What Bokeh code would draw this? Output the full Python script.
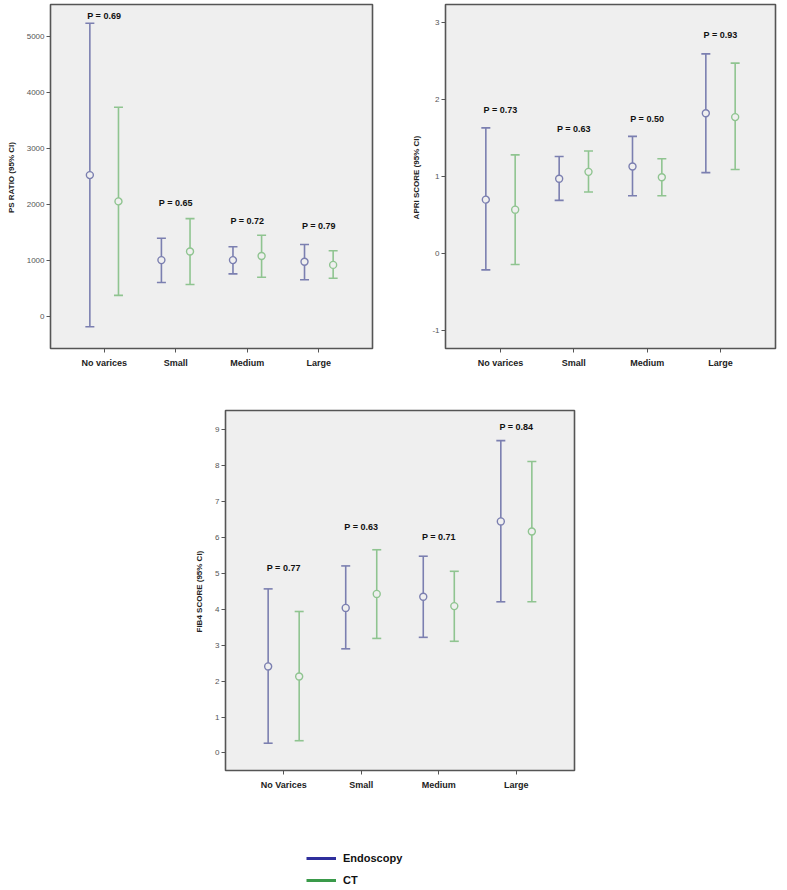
from bokeh.plotting import figure
from bokeh.models import (ColumnDataSource, FactorRange, Range1d, FixedTicker,
                          Legend, LegendItem, Spacer)
from bokeh.transform import dodge
from bokeh.layouts import row, column
from bokeh.embed import file_html
from bokeh.resources import INLINE
from bokeh.core.properties import value

# ---------------- data ----------------
cats_top = ["No varices", "Small", "Medium", "Large"]
cats_bot = ["No Varices", "Small", "Medium", "Large"]

ps_endo_mean = [2530, 1010, 1010, 980]
ps_endo_low = [-180, 610, 765, 660]
ps_endo_high = [5245, 1400, 1250, 1290]
ps_ct_mean = [2060, 1165, 1083, 925]
ps_ct_low = [380, 575, 705, 687]
ps_ct_high = [3742, 1752, 1456, 1178]
ps_p_text = ["P = 0.69", "P = 0.65", "P = 0.72", "P = 0.79"]
ps_p_y = [5380, 2040, 1705, 1615]
ps_ticks = [0, 1000, 2000, 3000, 4000, 5000]

apri_endo_mean = [0.70, 0.97, 1.13, 1.82]
apri_endo_low = [-0.21, 0.69, 0.75, 1.05]
apri_endo_high = [1.63, 1.26, 1.52, 2.59]
apri_ct_mean = [0.57, 1.06, 0.99, 1.77]
apri_ct_low = [-0.14, 0.80, 0.75, 1.09]
apri_ct_high = [1.28, 1.33, 1.23, 2.47]
apri_p_text = ["P = 0.73", "P = 0.63", "P = 0.50", "P = 0.93"]
apri_p_y = [1.86, 1.61, 1.74, 2.84]
apri_ticks = [-1, 0, 1, 2, 3]

fib_endo_mean = [2.41, 4.04, 4.35, 6.45]
fib_endo_low = [0.27, 2.90, 3.22, 4.21]
fib_endo_high = [4.57, 5.21, 5.48, 8.70]
fib_ct_mean = [2.13, 4.43, 4.09, 6.17]
fib_ct_low = [0.34, 3.19, 3.11, 4.21]
fib_ct_high = [3.94, 5.66, 5.06, 8.12]
fib_p_text = ["P = 0.77", "P = 0.63", "P = 0.71", "P = 0.84"]
fib_p_y = [5.14, 6.29, 6.01, 9.07]
fib_ticks = list(range(0, 10))

series_names = ["Endoscopy", "CT"]

# ---------------- style ----------------
BG = "#efefef"
ENDO = "#7b7fb0"
CT = "#8fc490"
ENDO_LEG = "#2f2f9c"
CT_LEG = "#3a9a4a"
FONT = "Liberation Sans"
DODGE = 0.2


def make_panel(cats, yr, ticks, ylabel, em, el, eh, cm, cl, ch, ptxt, py,
               width, height, bl, br, bt, bb):
    p = figure(width=width, height=height,
               x_range=FactorRange(*cats, range_padding=0.25,
                                   range_padding_units="absolute"),
               y_range=Range1d(*yr),
               output_backend="svg", toolbar_location=None,
               min_border_left=bl, min_border_right=br,
               min_border_top=bt, min_border_bottom=bb)
    p.background_fill_color = BG
    p.border_fill_color = "white"
    p.outline_line_color = "#555555"
    p.outline_line_width = 1.6
    p.xgrid.visible = False
    p.ygrid.visible = False

    for arrs, col, off in [((em, el, eh), ENDO, -DODGE), ((cm, cl, ch), CT, DODGE)]:
        src = ColumnDataSource(dict(cat=cats, mean=arrs[0], low=arrs[1], high=arrs[2]))
        xs = dodge("cat", off, range=p.x_range)
        p.segment(x0=xs, y0="low", x1=xs, y1="high", source=src,
                  line_color=col, line_width=1.6)
        p.scatter(x=xs, y="low", marker="dash", size=9, source=src,
                  line_color=col, line_width=1.6)
        p.scatter(x=xs, y="high", marker="dash", size=9, source=src,
                  line_color=col, line_width=1.6)
        p.scatter(x=xs, y="mean", marker="circle", size=7, source=src,
                  line_color=col, line_width=1.4, fill_color=BG)

    psrc = ColumnDataSource(dict(cat=cats, y=py, t=ptxt))
    p.text(x="cat", y="y", text="t", source=psrc, text_align="center",
           text_baseline="middle", text_font=value(FONT),
           text_font_size="9px", text_font_style="bold", text_color="#111111")

    p.yaxis.ticker = FixedTicker(ticks=ticks)
    p.yaxis.major_label_overrides = {t: str(t) for t in ticks if t < 0}
    p.yaxis.axis_label = ylabel
    p.yaxis.axis_label_text_font = FONT
    p.yaxis.axis_label_text_font_size = "8px"
    p.yaxis.axis_label_text_font_style = "bold"
    p.yaxis.axis_label_text_color = "#222222"
    p.yaxis.axis_label_standoff = 8
    p.yaxis.major_label_text_font = FONT
    p.yaxis.major_label_text_font_size = "8px"
    p.yaxis.major_label_text_color = "#555555"
    p.yaxis.major_label_standoff = 2
    p.yaxis.major_tick_in = 0
    p.yaxis.major_tick_out = 4
    p.yaxis.minor_tick_line_color = None
    p.yaxis.axis_line_color = None
    p.yaxis.major_tick_line_color = "#555555"

    p.xaxis.major_label_text_font = FONT
    p.xaxis.major_label_text_font_size = "9px"
    p.xaxis.major_label_text_font_style = "bold"
    p.xaxis.major_label_text_color = "#222222"
    p.xaxis.major_label_standoff = 5
    p.xaxis.major_tick_in = 0
    p.xaxis.major_tick_out = 4
    p.xaxis.axis_line_color = None
    p.xaxis.major_tick_line_color = "#555555"
    return p


p1 = make_panel(cats_top, (-570, 5580), ps_ticks, "PS RATIO  (95% CI)",
                ps_endo_mean, ps_endo_low, ps_endo_high,
                ps_ct_mean, ps_ct_low, ps_ct_high, ps_p_text, ps_p_y,
                width=380, height=388, bl=50, br=8, bt=4, bb=38)
p2 = make_panel(cats_top, (-1.23, 3.23), apri_ticks, "APRI SCORE  (95% CI)",
                apri_endo_mean, apri_endo_low, apri_endo_high,
                apri_ct_mean, apri_ct_low, apri_ct_high, apri_p_text, apri_p_y,
                width=407, height=388, bl=65, br=12, bt=4, bb=40)
p3 = make_panel(cats_bot, (-0.49, 9.54), fib_ticks, "FIB4 SCORE  (95% CI)",
                fib_endo_mean, fib_endo_low, fib_endo_high,
                fib_ct_mean, fib_ct_low, fib_ct_high, fib_p_text, fib_p_y,
                width=404, height=422, bl=45, br=10, bt=22, bb=40)

# ---------------- legend ----------------
pl = figure(width=220, height=80, x_range=Range1d(0, 1), y_range=Range1d(0, 1),
            output_backend="svg", toolbar_location=None,
            min_border=0, min_border_left=0, min_border_right=0,
            min_border_top=0, min_border_bottom=0)
pl.axis.visible = False
pl.grid.visible = False
pl.outline_line_color = None
r_e = pl.line(x=[5, 6], y=[5, 6], line_color=ENDO_LEG, line_width=3)
r_c = pl.line(x=[5, 6], y=[5, 6], line_color=CT_LEG, line_width=3)
leg = Legend(items=[LegendItem(label=series_names[0], renderers=[r_e]),
                    LegendItem(label=series_names[1], renderers=[r_c])],
             location=(0, 3), padding=0, margin=0, spacing=8,
             glyph_width=30, glyph_height=14, label_height=14,
             label_standoff=7, border_line_color=None,
             background_fill_alpha=0,
             label_text_font=FONT, label_text_font_size="11px",
             label_text_font_style="bold", label_text_color="#111111")
pl.add_layout(leg, "center")

layout = column(row(p1, p2),
                row(Spacer(width=180, height=10), p3),
                row(Spacer(width=306, height=10), pl))

open("out.html", "w").write(file_html(layout, INLINE))
